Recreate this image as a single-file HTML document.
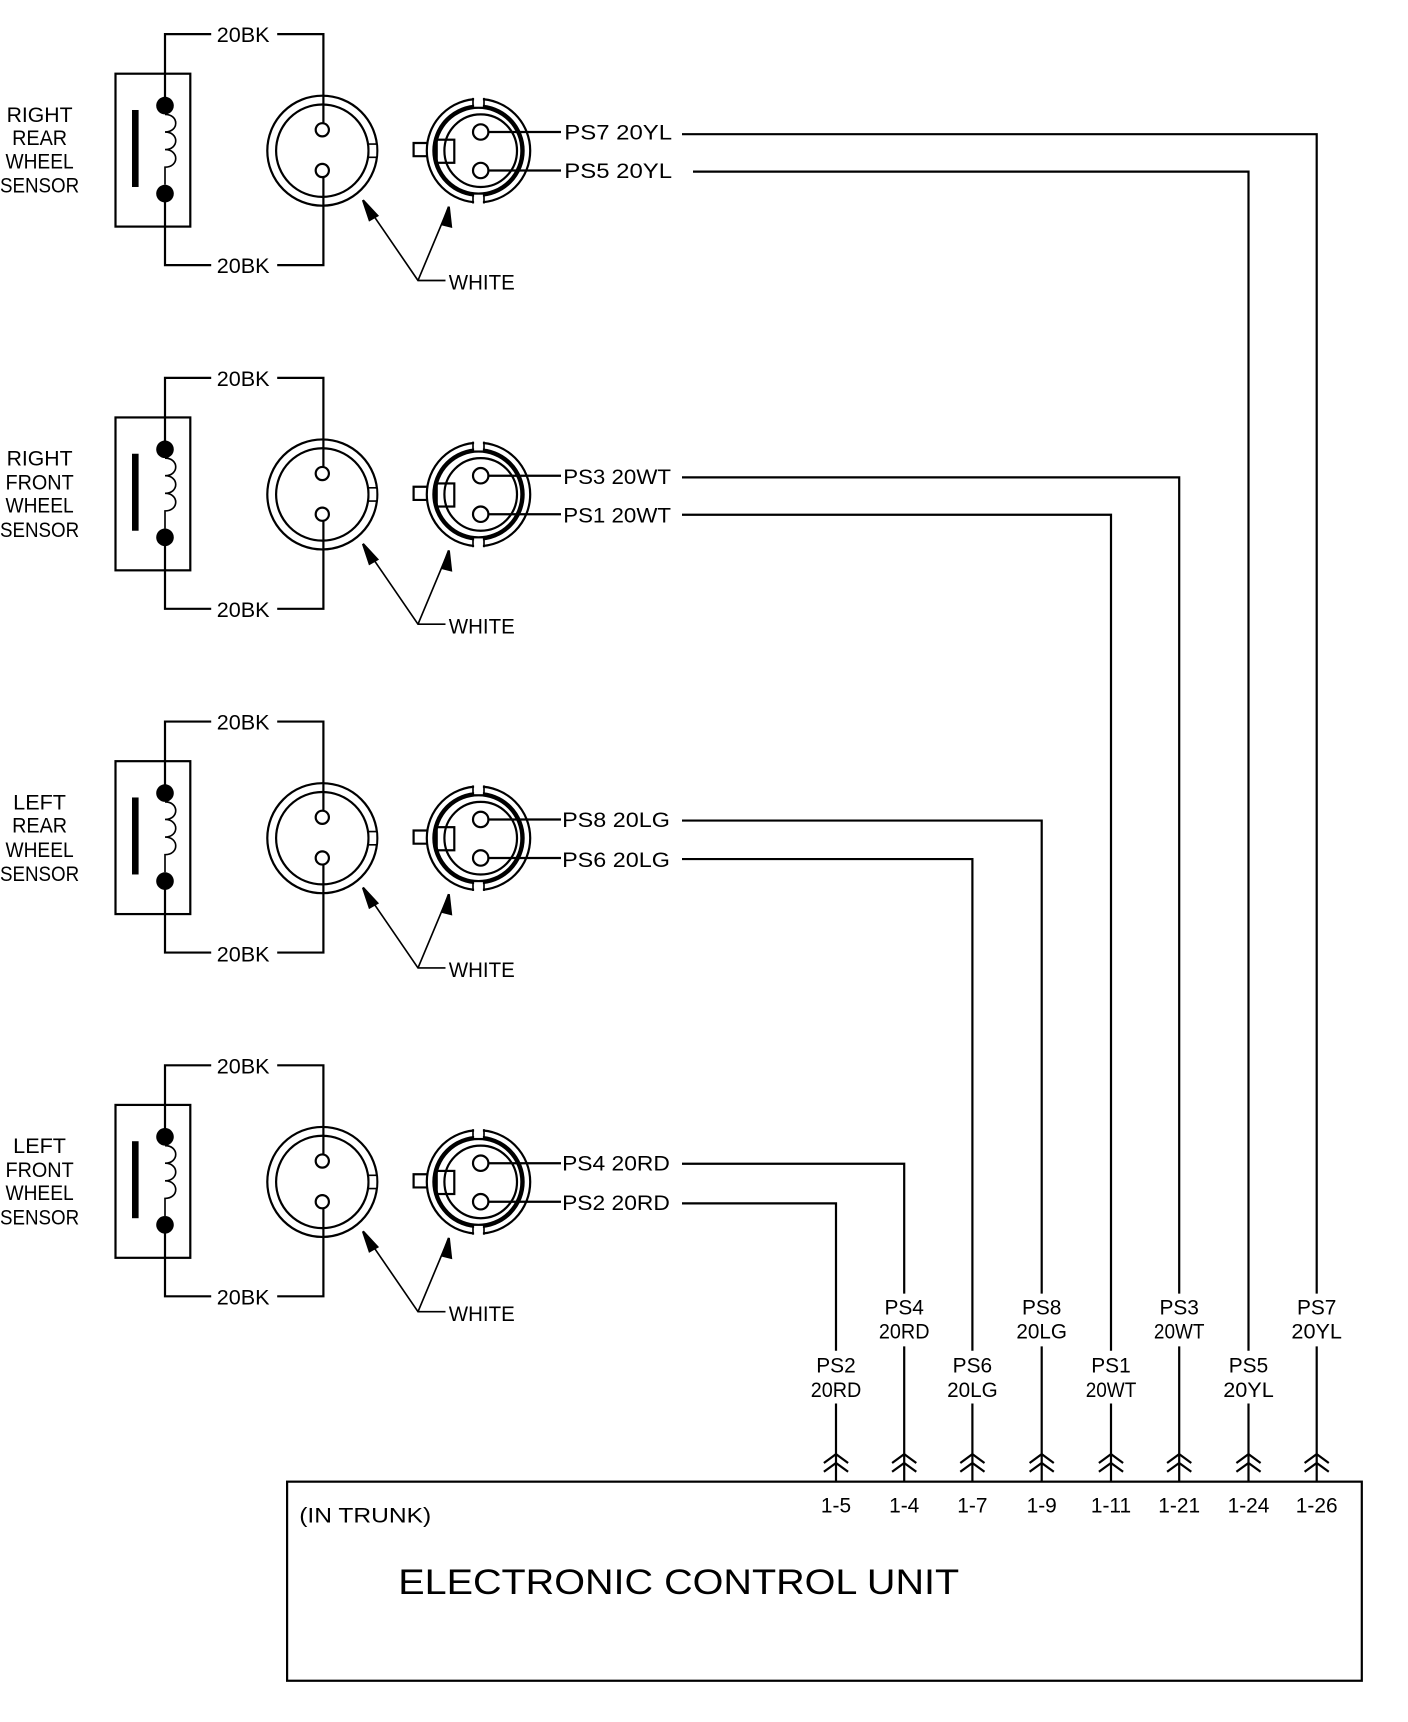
<!DOCTYPE html>
<html><head><meta charset="utf-8"><style>
html,body{margin:0;padding:0;background:#fff;}
svg{display:block;}
text{font-family:"Liberation Sans",sans-serif;font-size:19px;fill:#000;}
</style></head><body>
<svg width="1408" height="1722" viewBox="0 0 1280 1565.5" preserveAspectRatio="none" xmlns="http://www.w3.org/2000/svg">
<defs>
<g id="row" fill="none" stroke="#000" stroke-width="2">
  <rect x="105" y="67" width="68" height="139"/>
  <rect x="120" y="100" width="6" height="70" fill="#000" stroke="none"/>
  <circle cx="150" cy="96" r="8" fill="#000" stroke="none"/>
  <circle cx="150" cy="176" r="8" fill="#000" stroke="none"/>
  <path d="M150,104 c13,0 13,16 0,16 c13,0 13,16 0,16 c13,0 13,16 0,16 L150,168" stroke-width="1.5"/>
  <path d="M150,96 V31 H192 M252,31 H294 V112 M294,161 V241 H252 M192,241 H150 V176"/>
  <circle cx="293" cy="137" r="50"/>
  <circle cx="293" cy="137" r="42"/>
  <path d="M335,131 H343 M335,143 H343" stroke-width="1.5"/>
  <rect x="336" y="132" width="6" height="10" fill="#fff" stroke="none"/>
  <circle cx="293" cy="118" r="6"/>
  <circle cx="293" cy="155" r="6"/>
  <path d="M388,130 H376 V142 H388"/>
  <circle cx="435" cy="137" r="47"/>
  <circle cx="435" cy="137" r="40" stroke-width="4"/>
  <circle cx="437" cy="137" r="33"/>
  <rect x="397" y="127" width="16" height="21"/>
  <rect x="431" y="88" width="8" height="9" fill="#fff" stroke="none"/>
  <rect x="431" y="177" width="8" height="9" fill="#fff" stroke="none"/>
  <path d="M430,89 V97 M440,89 V97 M430,177 V185 M440,177 V185" stroke-width="1.5"/>
  <circle cx="437" cy="120" r="7"/>
  <circle cx="437" cy="155" r="7"/>
  <path d="M444,120 H510 M444,155 H510"/>
  <path d="M405,255 H380 L330,182 M380,255 L408,188" stroke-width="1.5"/>
  <path d="M330,182 L343,196 L336,200 Z M408,188 L410,206 L402,204 Z" fill="#000"/>
</g>
<g id="chev" fill="none" stroke="#000" stroke-width="2">
  <path d="M-11,1330 L0,1322 L11,1330 M-11,1338 L0,1330 L11,1338 M0,1322 V1347"/>
</g>
</defs>

<use href="#row"/>
<use href="#row" y="312.5"/>
<use href="#row" y="625"/>
<use href="#row" y="937.5"/>

<g text-anchor="middle">
<text x="36" y="111" textLength="60" lengthAdjust="spacingAndGlyphs">RIGHT</text><text x="36" y="132" textLength="50" lengthAdjust="spacingAndGlyphs">REAR</text><text x="36" y="153" textLength="62" lengthAdjust="spacingAndGlyphs">WHEEL</text><text x="36" y="175" textLength="72" lengthAdjust="spacingAndGlyphs">SENSOR</text>
<text x="36" y="423" textLength="60" lengthAdjust="spacingAndGlyphs">RIGHT</text><text x="36" y="445" textLength="62" lengthAdjust="spacingAndGlyphs">FRONT</text><text x="36" y="466" textLength="62" lengthAdjust="spacingAndGlyphs">WHEEL</text><text x="36" y="488" textLength="72" lengthAdjust="spacingAndGlyphs">SENSOR</text>
<text x="36" y="736" textLength="48" lengthAdjust="spacingAndGlyphs">LEFT</text><text x="36" y="757" textLength="50" lengthAdjust="spacingAndGlyphs">REAR</text><text x="36" y="779" textLength="62" lengthAdjust="spacingAndGlyphs">WHEEL</text><text x="36" y="801" textLength="72" lengthAdjust="spacingAndGlyphs">SENSOR</text>
<text x="36" y="1048" textLength="48" lengthAdjust="spacingAndGlyphs">LEFT</text><text x="36" y="1070" textLength="62" lengthAdjust="spacingAndGlyphs">FRONT</text><text x="36" y="1091" textLength="62" lengthAdjust="spacingAndGlyphs">WHEEL</text><text x="36" y="1113" textLength="72" lengthAdjust="spacingAndGlyphs">SENSOR</text>
</g>

<g>
<text x="197" y="38" textLength="48" lengthAdjust="spacingAndGlyphs">20BK</text>
<text x="197" y="248" textLength="48" lengthAdjust="spacingAndGlyphs">20BK</text>
<text x="408" y="263" textLength="60" lengthAdjust="spacingAndGlyphs">WHITE</text>
<text x="197" y="351" textLength="48" lengthAdjust="spacingAndGlyphs">20BK</text>
<text x="197" y="561" textLength="48" lengthAdjust="spacingAndGlyphs">20BK</text>
<text x="408" y="576" textLength="60" lengthAdjust="spacingAndGlyphs">WHITE</text>
<text x="197" y="663" textLength="48" lengthAdjust="spacingAndGlyphs">20BK</text>
<text x="197" y="874" textLength="48" lengthAdjust="spacingAndGlyphs">20BK</text>
<text x="408" y="888" textLength="60" lengthAdjust="spacingAndGlyphs">WHITE</text>
<text x="197" y="976" textLength="48" lengthAdjust="spacingAndGlyphs">20BK</text>
<text x="197" y="1186" textLength="48" lengthAdjust="spacingAndGlyphs">20BK</text>
<text x="408" y="1201" textLength="60" lengthAdjust="spacingAndGlyphs">WHITE</text>
</g>

<g>
<text x="513" y="127" textLength="98" lengthAdjust="spacingAndGlyphs">PS7  20YL</text>
<text x="513" y="162" textLength="98" lengthAdjust="spacingAndGlyphs">PS5  20YL</text>
<text x="512" y="440" textLength="98" lengthAdjust="spacingAndGlyphs">PS3  20WT</text>
<text x="512" y="475" textLength="98" lengthAdjust="spacingAndGlyphs">PS1  20WT</text>
<text x="511" y="752" textLength="98" lengthAdjust="spacingAndGlyphs">PS8  20LG</text>
<text x="511" y="788" textLength="98" lengthAdjust="spacingAndGlyphs">PS6  20LG</text>
<text x="511" y="1064" textLength="98" lengthAdjust="spacingAndGlyphs">PS4  20RD</text>
<text x="511" y="1100" textLength="98" lengthAdjust="spacingAndGlyphs">PS2  20RD</text>
</g>

<g fill="none" stroke="#000" stroke-width="2">
<path d="M620,122 H1197 V1176 M1197,1224 V1322"/>
<path d="M630,156 H1135 V1228 M1135,1276 V1322"/>
<path d="M620,434 H1072 V1176 M1072,1224 V1322"/>
<path d="M620,468 H1010 V1228 M1010,1276 V1322"/>
<path d="M620,746 H947 V1176 M947,1224 V1322"/>
<path d="M620,781 H884 V1228 M884,1276 V1322"/>
<path d="M620,1058 H822 V1176 M822,1224 V1322"/>
<path d="M620,1094 H760 V1228 M760,1276 V1322"/>
</g>

<g text-anchor="middle">
<text x="822" y="1195">PS4</text><text x="822" y="1217" textLength="46" lengthAdjust="spacingAndGlyphs">20RD</text>
<text x="947" y="1195">PS8</text><text x="947" y="1217" textLength="46" lengthAdjust="spacingAndGlyphs">20LG</text>
<text x="1072" y="1195">PS3</text><text x="1072" y="1217" textLength="46" lengthAdjust="spacingAndGlyphs">20WT</text>
<text x="1197" y="1195">PS7</text><text x="1197" y="1217" textLength="46" lengthAdjust="spacingAndGlyphs">20YL</text>
<text x="760" y="1248">PS2</text><text x="760" y="1270" textLength="46" lengthAdjust="spacingAndGlyphs">20RD</text>
<text x="884" y="1248">PS6</text><text x="884" y="1270" textLength="46" lengthAdjust="spacingAndGlyphs">20LG</text>
<text x="1010" y="1248">PS1</text><text x="1010" y="1270" textLength="46" lengthAdjust="spacingAndGlyphs">20WT</text>
<text x="1135" y="1248">PS5</text><text x="1135" y="1270" textLength="46" lengthAdjust="spacingAndGlyphs">20YL</text>
</g>

<use href="#chev" x="760"/><use href="#chev" x="822"/><use href="#chev" x="884"/><use href="#chev" x="947"/>
<use href="#chev" x="1010"/><use href="#chev" x="1072"/><use href="#chev" x="1135"/><use href="#chev" x="1197"/>

<rect x="261" y="1347" width="977" height="181" fill="none" stroke="#000" stroke-width="2"/>
<g text-anchor="middle">
<text x="760" y="1375">1-5</text><text x="822" y="1375">1-4</text><text x="884" y="1375">1-7</text><text x="947" y="1375">1-9</text>
<text x="1010" y="1375">1-11</text><text x="1072" y="1375">1-21</text><text x="1135" y="1375">1-24</text><text x="1197" y="1375">1-26</text>
</g>
<text x="272" y="1384" textLength="120" lengthAdjust="spacingAndGlyphs">(IN TRUNK)</text>
<text x="362" y="1449" style="font-size:32px;font-weight:300" textLength="510" lengthAdjust="spacingAndGlyphs">ELECTRONIC  CONTROL  UNIT</text>
</svg>
</body></html>
